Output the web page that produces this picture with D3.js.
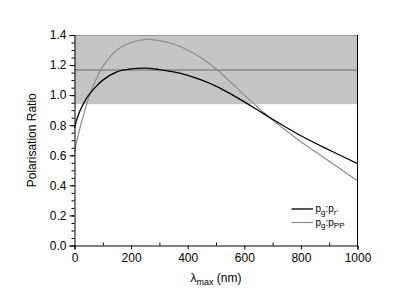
<!DOCTYPE html>
<html>
<head>
<meta charset="utf-8">
<script src="https://cdn.jsdelivr.net/npm/d3@7"></script>
<style>
  body { margin: 0; background: #fff; }
  text { font-family: "Liberation Sans", Arial, sans-serif; fill: #000; }
</style>
</head>
<body>
<div id="my_dataviz"></div>
<script>
// data
var lambda = [0, 10, 25, 50, 75, 100, 150, 200, 250, 300, 350, 400, 450, 500, 550, 600, 650, 700, 800, 900, 1000];
var ratioR = [0.78, 0.85, 0.92, 1.0, 1.055, 1.10, 1.155, 1.175, 1.18, 1.17, 1.155, 1.132, 1.10, 1.06, 1.01, 0.955, 0.898, 0.84, 0.73, 0.635, 0.545];
var ratioPP = [0.62, 0.71, 0.82, 0.98, 1.10, 1.19, 1.30, 1.35, 1.37, 1.362, 1.34, 1.30, 1.245, 1.175, 1.09, 1.0, 0.915, 0.835, 0.69, 0.56, 0.43];
var bandLow = 0.94, bandHigh = 1.4, refLine = 1.167;
var xTicks = [0, 200, 400, 600, 800, 1000];
var yTicks = [0.0, 0.2, 0.4, 0.6, 0.8, 1.0, 1.2, 1.4];

var margin = {top: 35, right: 57.5, bottom: 48.5, left: 74.5},
    width = 415 - margin.left - margin.right,
    height = 294 - margin.top - margin.bottom;

var svg = d3.select("#my_dataviz")
  .append("svg")
    .attr("width", 415)
    .attr("height", 294)
  .append("g")
    .attr("transform", "translate(" + margin.left + "," + margin.top + ")");

var x = d3.scaleLinear().domain([0, 1000]).range([0, width]);
var y = d3.scaleLinear().domain([0, 1.4]).range([height, 0]);

// grey band
svg.append("rect")
  .attr("x", 0)
  .attr("y", y(bandHigh))
  .attr("width", width)
  .attr("height", y(bandLow) - y(bandHigh))
  .style("fill", "#c4c4c4");

svg.append("line")
  .attr("x1", 0).attr("x2", width)
  .attr("y1", y(refLine)).attr("y2", y(refLine))
  .style("stroke", "#6a6a6a").style("stroke-width", 1);

// curves
var line = function(vals) {
  return d3.line()
    .x(function(d, i) { return x(lambda[i]); })
    .y(function(d) { return y(d); })
    .curve(d3.curveCatmullRom.alpha(0.5))(vals);
};
svg.append("path").attr("d", line(ratioPP))
  .style("fill", "none").style("stroke", "#8c8c8c").style("stroke-width", 1.2);
svg.append("path").attr("d", line(ratioR))
  .style("fill", "none").style("stroke", "#000").style("stroke-width", 1.3);

// frame top / right
svg.append("line").attr("x1", 0).attr("x2", width).attr("y1", 0.5).attr("y2", 0.5)
  .style("stroke", "#9a9a9a");
svg.append("line").attr("x1", width).attr("x2", width).attr("y1", 0).attr("y2", height)
  .style("stroke", "#000");

// minor ticks
svg.append("g").attr("transform", "translate(0," + height + ")")
  .call(d3.axisTop(x).tickValues(d3.range(100, 1000, 200)).tickSize(3).tickFormat(""))
  .call(function(g) { g.select(".domain").remove(); });
svg.append("g")
  .call(d3.axisLeft(y).tickValues(d3.range(0.05, 1.4, 0.05)).tickSize(3).tickFormat(""))
  .call(function(g) { g.select(".domain").remove(); });

// X axis
var xAxis = svg.append("g")
  .attr("transform", "translate(0," + height + ")")
  .call(d3.axisBottom(x).tickValues(xTicks).tickSize(4).tickPadding(4).tickFormat(d3.format("d")));
xAxis.selectAll("text").style("font-size", "12px");

// Y axis
var yAxis = svg.append("g")
  .call(d3.axisLeft(y).tickValues(yTicks).tickSize(5).tickPadding(3).tickFormat(d3.format(".1f")));
yAxis.selectAll("text").style("font-size", "12px");

// X axis label
var xl = svg.append("text")
  .attr("text-anchor", "middle")
  .attr("x", width / 2)
  .attr("y", height + 36)
  .style("font-size", "12px");
xl.append("tspan").text("\u03bb");
xl.append("tspan").attr("dy", 3).style("font-size", "9px").text("max");
xl.append("tspan").attr("dy", -3).text(" (nm)");

// Y axis label
svg.append("text")
  .attr("text-anchor", "middle")
  .attr("transform", "rotate(-90)")
  .attr("x", -height / 2)
  .attr("y", -39)
  .style("font-size", "12px")
  .text("Polarisation Ratio");

// legend
var legend = [
  {sub2: "r'", color: "#000", w: 1.3},
  {sub2: "PP", color: "#8c8c8c", w: 1.2}
];
legend.forEach(function(d, i) {
  var ly = 174 + i * 13.5;
  svg.append("line")
    .attr("x1", 217).attr("x2", 238.5)
    .attr("y1", ly).attr("y2", ly)
    .style("stroke", d.color).style("stroke-width", d.w);
  var t = svg.append("text").attr("x", 241).attr("y", ly + 3).style("font-size", "10px");
  t.append("tspan").text("p");
  t.append("tspan").attr("dy", 2.5).style("font-size", "8px").text("g");
  t.append("tspan").attr("dy", -2.5).text(":p");
  t.append("tspan").attr("dy", 2.5).style("font-size", "8px").text(d.sub2);
});
</script>
</body>
</html>
